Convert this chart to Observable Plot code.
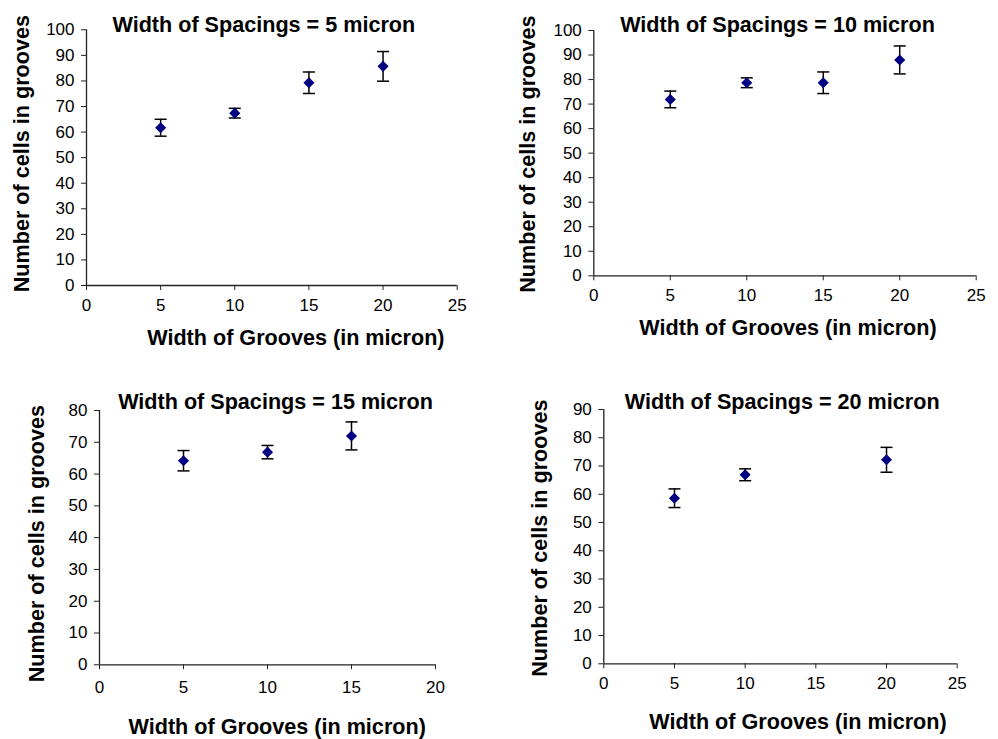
<!DOCTYPE html>
<html><head><meta charset="utf-8">
<script src="https://cdn.jsdelivr.net/npm/d3@7"></script>
<script src="https://cdn.jsdelivr.net/npm/@observablehq/plot@0.6"></script>
<style>
body{margin:0;background:#fff}
#wrap{position:relative;width:998px;height:739px;background:#fff}
.p{position:absolute}
</style>
</head><body><div id="wrap"></div>
<script>
// ---- data ----
const titles = ["Width of Spacings = 5 micron", "Width of Spacings = 10 micron", "Width of Spacings = 15 micron", "Width of Spacings = 20 micron"];
const xLabel = "Width of Grooves (in micron)";
const yLabel = "Number of cells in grooves";

const grooves_s5 = [5, 10, 15, 20];
const cells_s5 = [61.7, 67.4, 79.3, 85.7];
const err_s5 = [3.3, 1.9, 4.2, 5.8];

const grooves_s10 = [5, 10, 15, 20];
const cells_s10 = [71.9, 78.7, 78.7, 88.0];
const err_s10 = [3.4, 2.0, 4.4, 5.7];

const grooves_s15 = [5, 10, 15];
const cells_s15 = [64.2, 66.9, 72.0];
const err_s15 = [3.2, 2.1, 4.4];

const grooves_s20 = [5, 10, 20];
const cells_s20 = [58.6, 66.9, 72.2];
const err_s20 = [3.3, 2.1, 4.4];

const xTicks_s5 = [0, 5, 10, 15, 20, 25];
const xTicks_s10 = [0, 5, 10, 15, 20, 25];
const xTicks_s15 = [0, 5, 10, 15, 20];
const xTicks_s20 = [0, 5, 10, 15, 20, 25];
const yTicks_s5 = [0, 10, 20, 30, 40, 50, 60, 70, 80, 90, 100];
const yTicks_s10 = [0, 10, 20, 30, 40, 50, 60, 70, 80, 90, 100];
const yTicks_s15 = [0, 10, 20, 30, 40, 50, 60, 70, 80];
const yTicks_s20 = [0, 10, 20, 30, 40, 50, 60, 70, 80, 90];

// ---- layout ----
const panels = [
  {grooves: grooves_s5, cells: cells_s5, err: err_s5, xt: xTicks_s5, yt: yTicks_s5, title: titles[0],
   left: 0, top: 0, width: 480, height: 360, mL: 86, mR: 23.3, mT: 29.3, mB: 75,
   t: [-8, -4.3], yl: [-64, -4], xl: [24, 53], xOff: 20},
  {grooves: grooves_s10, cells: cells_s10, err: err_s10, xt: xTicks_s10, yt: yTicks_s10, title: titles[1],
   left: 500, top: 0, width: 498, height: 360, mL: 93.3, mR: 22.3, mT: 30, mB: 84.7,
   t: [-7.5, -5], yl: [-65.3, 1], xl: [3, 52.7], xOff: 20},
  {grooves: grooves_s15, cells: cells_s15, err: err_s15, xt: xTicks_s15, yt: yTicks_s15, title: titles[2],
   left: 0, top: 370, width: 480, height: 369, mL: 99, mR: 45, mT: 40, mB: 74.7,
   t: [8, -8.3], yl: [-62.3, 6], xl: [9.7, 62.4], xOff: 22.4},
  {grooves: grooves_s20, cells: cells_s20, err: err_s20, xt: xTicks_s20, yt: yTicks_s20, title: titles[3],
   left: 500, top: 370, width: 498, height: 369, mL: 103.3, mR: 41.3, mT: 39, mB: 75.7,
   t: [1.7, -7.3], yl: [-63.3, 1.5], xl: [17.5, 58.4], xOff: 20}
];

const capSymbol = {draw(ctx) { ctx.moveTo(-6, 0); ctx.lineTo(6, 0); }};
const font = "'Liberation Sans', Arial, Helvetica, sans-serif";
const wrap = document.getElementById("wrap");
const LBL = 21.6;
const TICK = 17;

for (const p of panels) {
  const rows = p.grooves.map((g, i) => ({x: g, y: p.cells[i], lo: p.cells[i] - p.err[i], hi: p.cells[i] + p.err[i]}));
  const xd = [p.xt[0], p.xt[p.xt.length - 1]];
  const yd = [p.yt[0], p.yt[p.yt.length - 1]];
  const chart = Plot.plot({
    width: p.width, height: p.height,
    marginLeft: p.mL, marginRight: p.mR, marginTop: p.mT, marginBottom: p.mB,
    style: {fontFamily: font, color: "black", background: "white", overflow: "visible"},
    x: {domain: xd},
    y: {domain: yd},
    marks: [
      Plot.axisX({ticks: p.xt, tickSize: 5, tickFormat: () => "", label: null, stroke: "#222"}),
      Plot.axisY({ticks: p.yt, tickSize: 5, tickFormat: () => "", label: null, stroke: "#222"}),
      Plot.text(p.xt, {x: d => d, text: d => String(d), frameAnchor: "bottom", textAnchor: "middle", lineAnchor: "middle",
        dy: p.xOff, fontSize: TICK, fill: "black"}),
      Plot.text(p.yt, {y: d => d, text: d => String(d), frameAnchor: "left", textAnchor: "end", lineAnchor: "middle",
        dx: -12, fontSize: TICK, fill: "black"}),
      Plot.ruleX([xd[0]], {stroke: "#222", strokeWidth: 1.3}),
      Plot.ruleY([yd[0]], {stroke: "#222", strokeWidth: 1.3}),
      Plot.ruleX(rows, {x: "x", y1: "lo", y2: "hi", stroke: "black", strokeWidth: 1.5}),
      Plot.dot(rows, {x: "x", y: "lo", symbol: capSymbol, r: 1, stroke: "black", strokeWidth: 1.5, fill: "none"}),
      Plot.dot(rows, {x: "x", y: "hi", symbol: capSymbol, r: 1, stroke: "black", strokeWidth: 1.5, fill: "none"}),
      Plot.dot(rows, {x: "x", y: "y", symbol: "diamond2", r: 5, fill: "#000080", stroke: "none"}),
      Plot.text([p.title], {text: d => d, frameAnchor: "top", textAnchor: "middle", lineAnchor: "middle",
        dx: p.t[0], dy: p.t[1], fontSize: LBL, fontWeight: "bold", fill: "black"}),
      Plot.text([yLabel], {text: d => d, frameAnchor: "left", textAnchor: "middle", lineAnchor: "middle", rotate: -90,
        dx: p.yl[0], dy: p.yl[1], fontSize: LBL, fontWeight: "bold", fill: "black"}),
      Plot.text([xLabel], {text: d => d, frameAnchor: "bottom", textAnchor: "middle", lineAnchor: "middle",
        dx: p.xl[0], dy: p.xl[1], fontSize: LBL, fontWeight: "bold", fill: "black"})
    ]
  });
  const div = document.createElement("div");
  div.className = "p";
  div.style.left = p.left + "px";
  div.style.top = p.top + "px";
  div.appendChild(chart);
  wrap.appendChild(div);
}
</script>
</body></html>
